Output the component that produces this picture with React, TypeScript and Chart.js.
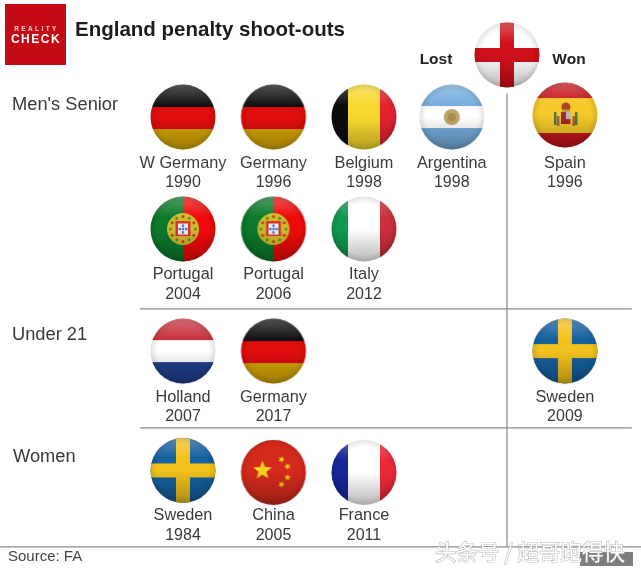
import { useEffect, useRef } from 'react';
import { Chart, registerables } from 'chart.js';

Chart.register(...registerables);

// one entry per shoot-out
const teams = ['W Germany', 'Germany', 'Belgium', 'Argentina', 'Spain', 'Portugal', 'Portugal', 'Italy', 'Holland', 'Germany', 'Sweden', 'Sweden', 'China', 'France'];
const years = [1990, 1996, 1998, 1998, 1996, 2004, 2006, 2012, 2007, 2017, 2009, 1984, 2005, 2011];
const sectionOf = [0, 0, 0, 0, 0, 0, 0, 0, 1, 1, 1, 2, 2, 2];
const results = ['L', 'L', 'L', 'L', 'W', 'L', 'L', 'L', 'L', 'L', 'W', 'L', 'L', 'L'];
const sectionNames = ["Men's Senior", 'Under 21', 'Women'];

// layout on the chart's two scales, in column / row units
const lostSlots = [0, 1, 2, 2.97];
const wonSlot = 4.22;
const sectionSteps = [1.09, 1.07, 0];
const englandSlot = { x: 3.58, y: -0.554 };
const dividerRows = [1.714, 2.777, 3.839];
const dividerLeft = -0.475;
const dividerRight = 4.96;
const stemTop = -0.21;

// small pixel tweaks for text and for flags that sit off their row
const FONT = '"Liberation Sans"';
const sectionLabelDy = [-12, -16, -14];
const teamLabelDy = [46, 46, 45];
const flagNudge: Record<string, number> = { 'Spain 1996': -2, 'China 2005': 1.5, 'France 2011': 1.5, 'Sweden 1984': -0.5 };

function placePoints() {
  const pts: { x: number; y: number }[] = [];
  let base = 0;
  sectionNames.forEach((_, s) => {
    let lost = 0;
    let maxRow = 0;
    teams.forEach((__, i) => {
      if (sectionOf[i] !== s) return;
      if (results[i] === 'W') {
        pts[i] = { x: wonSlot, y: base };
      } else {
        const row = Math.floor(lost / lostSlots.length);
        pts[i] = { x: lostSlots[lost % lostSlots.length], y: base + row };
        maxRow = Math.max(maxRow, row);
        lost++;
      }
    });
    base += maxRow + sectionSteps[s];
  });
  return pts;
}

type Ctx = CanvasRenderingContext2D;

function hBands(c: Ctx, colors: string[], cuts: number[]) {
  const edges = [-40, ...cuts, 40];
  colors.forEach((col, i) => {
    c.fillStyle = col;
    c.fillRect(-40, edges[i], 80, edges[i + 1] - edges[i]);
  });
}

function vBands(c: Ctx, colors: string[], cuts: number[]) {
  const edges = [-40, ...cuts, 40];
  colors.forEach((col, i) => {
    c.fillStyle = col;
    c.fillRect(edges[i], -40, edges[i + 1] - edges[i], 80);
  });
}

function disc(c: Ctx, x: number, y: number, r: number, col: string) {
  c.fillStyle = col;
  c.beginPath();
  c.arc(x, y, r, 0, Math.PI * 2);
  c.fill();
}

function star(c: Ctx, x: number, y: number, r: number, rot: number) {
  c.fillStyle = '#f6d21e';
  c.beginPath();
  for (let i = 0; i < 10; i++) {
    const a = rot - Math.PI / 2 + (i * Math.PI) / 5;
    const d = i % 2 ? r * 0.42 : r;
    c.lineTo(x + Math.cos(a) * d, y + Math.sin(a) * d);
  }
  c.closePath();
  c.fill();
}

function cross(c: Ctx, bg: string, col: string) {
  c.fillStyle = bg;
  c.fillRect(-40, -40, 80, 80);
  c.fillStyle = col;
  c.fillRect(-7, -40, 14, 80);
  c.fillRect(-40, -7, 80, 14);
}

const painters: Record<string, (c: Ctx) => void> = {
  Germany: (c) => hBands(c, ['#111111', '#e00d0d', '#d8a806'], [-10, 12]),
  Belgium: (c) => vBands(c, ['#0c0c0c', '#f7d92e', '#e32230'], [-16, 16]),
  Argentina: (c) => {
    hBands(c, ['#76aede', '#ffffff', '#76aede'], [-11, 11]);
    disc(c, 0, 0, 8, '#bda468');
    disc(c, 0, 0, 4, '#a58a4c');
  },
  Spain: (c) => {
    hBands(c, ['#c4161c', '#f5c92a', '#c4161c'], [-17, 18]);
    // crown
    disc(c, 1, -8, 4.5, '#a8442a');
    c.fillStyle = '#c49a30';
    c.fillRect(-3, -5.5, 8, 2);
    // shield
    c.fillStyle = '#a32a22';
    c.fillRect(-4, -3, 5, 12);
    c.fillStyle = '#b8b4c4';
    c.fillRect(1, -3, 4.5, 7);
    c.fillStyle = '#a32a22';
    c.fillRect(1, 4, 4.5, 5);
    // pillars
    c.fillStyle = '#55704a';
    c.fillRect(-11, -3, 2.5, 13);
    c.fillRect(10, -3, 2.5, 13);
    c.fillStyle = '#a0683a';
    c.fillRect(-8, 1, 2.5, 10);
    c.fillRect(7.5, 1, 2.5, 10);
  },
  Portugal: (c) => {
    vBands(c, ['#0b7a2a', '#ee0a0a'], [0]);
    disc(c, 0, 0, 16, '#cdbb2c');
    for (let i = 0; i < 12; i++) {
      const a = (i * Math.PI) / 6;
      disc(c, Math.cos(a) * 12.5, Math.sin(a) * 12.5, 1.5, i % 2 ? '#b8421e' : '#5f8a2a');
    }
    disc(c, 0, 0, 10, '#d9b52f');
    c.fillStyle = '#d8342a';
    c.fillRect(-7.5, -8, 15, 15);
    c.fillStyle = '#f4f4f4';
    c.fillRect(-5, -5.5, 10, 11);
    c.fillStyle = '#4a6fc0';
    c.fillRect(-1.2, -4.5, 2.4, 2.4);
    c.fillRect(-1.2, -1.2, 2.4, 2.4);
    c.fillRect(-1.2, 2.2, 2.4, 2.4);
    c.fillRect(-4.4, -1.2, 2.4, 2.4);
    c.fillRect(2, -1.2, 2.4, 2.4);
  },
  Italy: (c) => vBands(c, ['#0f9a50', '#ffffff', '#cb2f3c'], [-16, 16]),
  Holland: (c) => hBands(c, ['#c9323e', '#ffffff', '#21408f'], [-11, 11]),
  Sweden: (c) => cross(c, '#15609f', '#f2c21c'),
  China: (c) => {
    c.fillStyle = '#d42a1c';
    c.fillRect(-40, -40, 80, 80);
    star(c, -11, -2, 10, 0);
    star(c, 8, -13, 3.6, 0.4);
    star(c, 14, -6, 3.6, 0.9);
    star(c, 14, 5, 3.6, 0);
    star(c, 8, 12, 3.6, 0.4);
  },
  France: (c) => vBands(c, ['#16279a', '#ffffff', '#ee2a3a'], [-16, 16]),
  England: (c) => cross(c, '#ffffff', '#d0101a'),
};

function makeFlag(name: string, nudge = 0, flat = false) {
  const size = 76;
  const cv = document.createElement('canvas');
  cv.width = size;
  cv.height = size;
  const c = cv.getContext('2d') as Ctx;
  c.translate(size / 2, size / 2 + nudge);
  c.beginPath();
  c.arc(0, 0, 32.5, 0, Math.PI * 2);
  c.clip();
  painters[name](c);
  // glossy button look
  const g = c.createLinearGradient(0, -33, 0, 33);
  g.addColorStop(0, flat ? 'rgba(255,255,255,0)' : 'rgba(255,255,255,0.3)');
  g.addColorStop(0.32, 'rgba(255,255,255,0)');
  g.addColorStop(0.5, 'rgba(0,0,0,0)');
  g.addColorStop(1, 'rgba(0,0,0,0.28)');
  c.fillStyle = g;
  c.fillRect(-40, -40, 80, 80);
  const e = c.createRadialGradient(0, 0, 26, 0, 0, 33);
  e.addColorStop(0, 'rgba(0,0,0,0)');
  e.addColorStop(1, 'rgba(0,0,0,0.12)');
  c.fillStyle = e;
  c.fillRect(-40, -40, 80, 80);
  return cv;
}

const flagKey = (team: string) => team.replace('W ', '');

function text(c: Ctx, s: string, x: number, y: number, font: string, color: string, align: CanvasTextAlign = 'center') {
  c.font = font;
  c.fillStyle = color;
  c.textAlign = align;
  c.textBaseline = 'middle';
  c.fillText(s, x, y);
}

const annotations = {
  id: 'annotations',
  afterDraw(chart: Chart) {
    const c = chart.ctx;
    c.save();
    const meta = chart.getDatasetMeta(0);
    meta.data.forEach((pt: any, i: number) => {
      const dy = teamLabelDy[sectionOf[i]];
      text(c, teams[i], pt.x, pt.y + dy, `16.3px ${FONT}`, '#3a3a3a');
      text(c, String(years[i]), pt.x, pt.y + dy + 19.5, `16px ${FONT}`, '#3a3a3a');
    });

    // section names sit beside the first flag of each section
    const yScale = chart.scales.y;
    let base = 0;
    sectionNames.forEach((name, s) => {
      const y = yScale.getPixelForValue(base) + sectionLabelDy[s];
      text(c, name, s === 2 ? 13 : 12, y, `18.3px ${FONT}`, '#3a3a3a', 'left');
      const lost = sectionOf.filter((v, i) => v === s && results[i] === 'L').length;
      base += Math.floor((lost - 1) / lostSlots.length) + sectionSteps[s];
    });

    // reality check badge
    c.fillStyle = '#c40a14';
    c.fillRect(5, 4, 61, 61);
    c.letterSpacing = '2.4px';
    text(c, 'REALITY', 36.5, 29.5, `bold 6.5px ${FONT}`, '#f4c8c8');
    c.letterSpacing = '1.5px';
    text(c, 'CHECK', 36, 39.5, `bold 12px ${FONT}`, '#ffffff');
    c.letterSpacing = '0px';

    text(c, 'England penalty shoot-outs', 75, 30.5, `bold 20.5px ${FONT}`, '#1c1c1c', 'left');
    text(c, 'Lost', 436, 60, `bold 15.5px ${FONT}`, '#222222');
    text(c, 'Won', 569, 60, `bold 15.5px ${FONT}`, '#222222');
    text(c, 'Source: FA', 8, 557, `15px ${FONT}`, '#444444', 'left');

    // publisher's watermark
    c.fillStyle = '#7d7d7d';
    c.fillRect(580, 552, 53, 14);
    c.font = '21.5px "Noto Sans CJK SC"';
    c.textAlign = 'left';
    c.textBaseline = 'middle';
    c.lineWidth = 1.2;
    c.strokeStyle = 'rgba(150,150,150,0.65)';
    c.strokeText('头条号 / 超哥跑得快', 435, 552);
    c.fillStyle = '#ffffff';
    c.fillText('头条号 / 超哥跑得快', 435, 552);
    c.restore();
  },
};

export default function App() {
  const chartRef = useRef<HTMLCanvasElement | null>(null);

  useEffect(() => {
    let newChart: Chart | null = null;

    if (chartRef.current) {
      const line = { showLine: true, pointRadius: 0, borderColor: '#8b8b8b', borderWidth: 1.25, fill: false };
      const dividers = dividerRows.map((row, i) => ({
        ...line,
        data: i === dividerRows.length - 1
          ? [{ x: -2.03, y: row }, { x: 5.07, y: row }]
          : [{ x: dividerLeft, y: row }, { x: dividerRight, y: row }],
      }));

      newChart = new Chart(chartRef.current, {
        type: 'scatter',
        data: {
          datasets: [
            {
              data: placePoints(),
              pointStyle: teams.map((t, i) => makeFlag(flagKey(t), flagNudge[`${t} ${years[i]}`] || 0, t === 'China')),
              pointRadius: 32,
              order: 0,
            },
            { data: [englandSlot], pointStyle: makeFlag('England'), pointRadius: 32, order: 0 },
            ...dividers.map((d) => ({ ...d, order: 1 })),
            {
              ...line,
              order: 1,
              data: [{ x: englandSlot.x, y: stemTop }, { x: englandSlot.x, y: dividerRows[dividerRows.length - 1] }],
            },
          ] as any,
        },
        options: {
          animation: false,
          responsive: false,
          layout: { padding: 0, autoPadding: false },
          events: [],
          plugins: { legend: { display: false }, tooltip: { enabled: false }, title: { display: false } },
          scales: {
            x: { type: 'linear', display: false, min: -2.022, max: 5.061 },
            y: { type: 'linear', display: false, reverse: true, min: -1.045, max: 4.054 },
          },
        },
        plugins: [annotations],
      });
    }

    return () => {
      if (newChart) {
        newChart.destroy();
      }
    };
  }, []);

  return (
    <div style={{ position: 'absolute', left: 0, top: 0, width: 641, height: 571, background: '#fff' }}>
      <canvas ref={chartRef} width={641} height={571} style={{ display: 'block' }}></canvas>
    </div>
  );
}
